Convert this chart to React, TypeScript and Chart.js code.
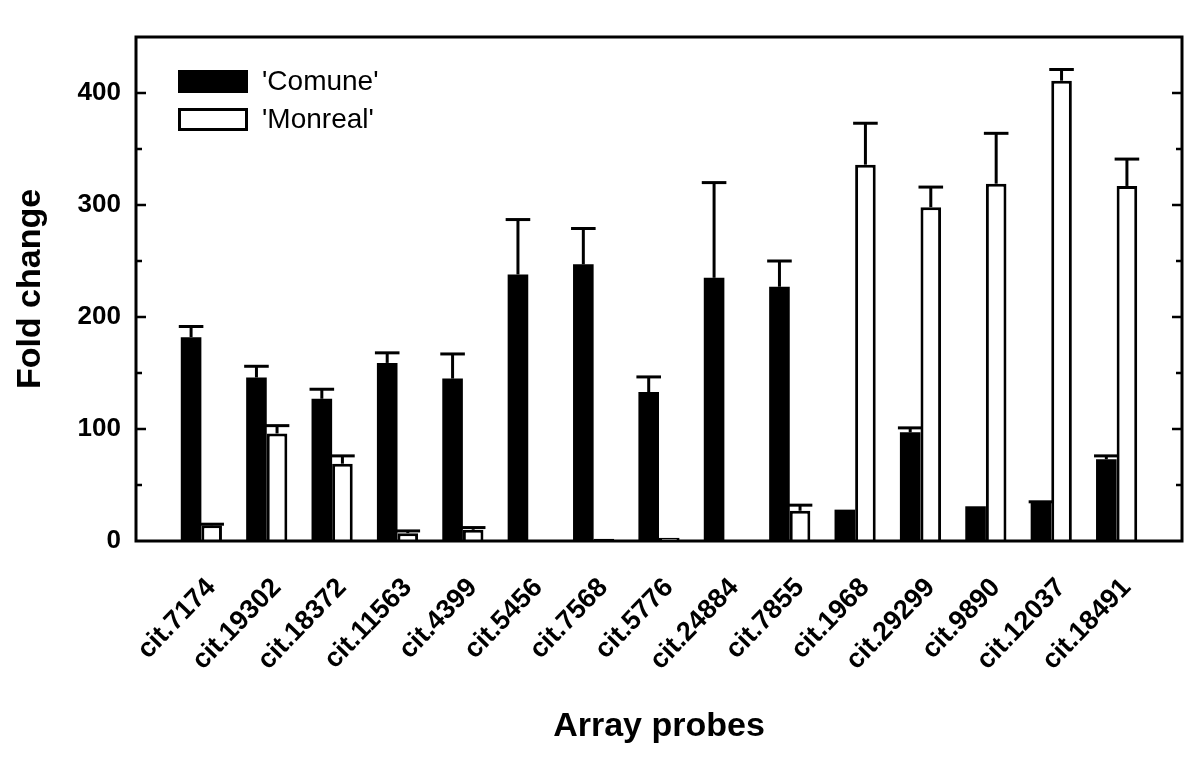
import React, { useEffect, useRef } from "react";
import { Chart, registerables } from "chart.js";

Chart.register(...registerables);

const categories = [
  "cit.7174", "cit.19302", "cit.18372", "cit.11563", "cit.4399",
  "cit.5456", "cit.7568", "cit.5776", "cit.24884", "cit.7855",
  "cit.1968", "cit.29299", "cit.9890", "cit.12037", "cit.18491",
];
const comune = [182, 146, 127, 159, 145, 238, 247, 133, 235, 227, 28, 97, 31, 34, 73];
const comuneErr = [9.5, 10, 8.5, 9, 22, 49, 32, 13.5, 85, 23, 0, 4, 0, 1, 3];
const monreal = [14, 96, 69, 7, 10, 0, 2, 3, 0, 27, 336, 298, 319, 411, 317];
const monrealErr = [1, 7, 7, 2, 2, 0, 0, 0, 0, 5, 37, 18, 45, 10, 24];
const yTickLabels = [0, 100, 200, 300, 400];
const seriesNames = ["'Comune'", "'Monreal'"];

const FONT = "'Liberation Sans', Arial, Helvetica, sans-serif";

export default function App() {
  const canvasRef = useRef<HTMLCanvasElement | null>(null);

  useEffect(() => {
    const canvas = canvasRef.current;
    if (!canvas) return;
    const errs = [comuneErr, monrealErr];

    const framePlugin = {
      id: "frameTicksErr",
      afterDatasetsDraw(chart: any) {
        const ctx = chart.ctx;
        const { left, right, top, bottom } = chart.chartArea;
        const yScale = chart.scales.y;
        // error bars
        chart.data.datasets.forEach((ds: any, di: number) => {
          const meta = chart.getDatasetMeta(di);
          meta.data.forEach((bar: any, j: number) => {
            const e = errs[di][j];
            const v = ds.data[j].y;
            if (!e || e <= 0 || v == null) return;
            const p = bar.getProps(["x", "y", "width"], true);
            const yTop = yScale.getPixelForValue(v + e);
            ctx.save();
            ctx.strokeStyle = "#000";
            ctx.lineWidth = 3;
            ctx.beginPath();
            ctx.moveTo(p.x, p.y);
            ctx.lineTo(p.x, yTop);
            ctx.stroke();
            const capW = p.width + 4;
            ctx.beginPath();
            ctx.moveTo(p.x - capW / 2, yTop);
            ctx.lineTo(p.x + capW / 2, yTop);
            ctx.stroke();
            ctx.restore();
          });
        });
        // frame
        ctx.save();
        ctx.strokeStyle = "#000";
        ctx.lineWidth = 3;
        ctx.strokeRect(left, top, right - left, bottom - top);
        // inward ticks
        ctx.lineWidth = 2.5;
        for (let v = 50; v < 450; v += 50) {
          const y = yScale.getPixelForValue(v);
          const len = v % 100 === 0 ? 10 : 6;
          ctx.beginPath();
          ctx.moveTo(left, y);
          ctx.lineTo(left + len, y);
          ctx.moveTo(right, y);
          ctx.lineTo(right - len, y);
          ctx.stroke();
        }
        ctx.restore();
      },
      afterDraw(chart: any) {
        const ctx = chart.ctx;
        ctx.save();
        const boxX = 178, boxW = 70, boxH = 23;
        const rows = [70, 108];
        chart.data.datasets.forEach((ds: any, i: number) => {
          const y = rows[i];
          if (i === 0) {
            ctx.fillStyle = "#000";
            ctx.fillRect(boxX, y, boxW, boxH);
          } else {
            ctx.fillStyle = "#fff";
            ctx.fillRect(boxX, y, boxW, boxH);
            ctx.strokeStyle = "#000";
            ctx.lineWidth = 3;
            ctx.strokeRect(boxX + 1.5, y + 1.5, boxW - 3, boxH - 3);
          }
          ctx.fillStyle = "#000";
          ctx.font = `28px ${FONT}`;
          ctx.textBaseline = "middle";
          ctx.textAlign = "left";
          ctx.fillText(ds.label, 262, y + boxH / 2 + 1);
        });
        ctx.restore();
      },
    };

    const chart = new Chart(canvas, {
      type: "bar",
      data: {
        datasets: [
          {
            label: seriesNames[0],
            data: comune.map((v, i) => ({ x: i + 1, y: v })),
            backgroundColor: "#000",
            borderColor: "#000",
            borderWidth: 0,
          },
          {
            label: seriesNames[1],
            data: monreal.map((v, i) => ({ x: i + 1, y: v })),
            backgroundColor: "#fff",
            borderColor: "#000",
            borderWidth: 3,
            borderSkipped: "start",
          },
        ],
      },
      options: {
        responsive: false,
        animation: false,
        categoryPercentage: 0.63,
        barPercentage: 1.0,
        layout: { padding: { left: 0, right: 18, top: 37, bottom: 0 } },
        plugins: {
          legend: { display: false },
          tooltip: { enabled: false },
        },
        scales: {
          x: {
            type: "linear",
            min: 0,
            max: 16,
            offset: false,
            grid: { display: false, drawTicks: false },
            border: { display: false },
            afterFit: (s: any) => {
              s.height = 219;
              s.paddingLeft = 0;
              s.paddingRight = 0;
            },
            afterBuildTicks: (s: any) => {
              s.ticks = [];
              for (let i = 0; i <= 16; i++) s.ticks.push({ value: i });
            },
            ticks: {
              autoSkip: false,
              minRotation: 46,
              maxRotation: 46,
              padding: 31,
              labelOffset: 10,
              color: "#000",
              font: { family: FONT, size: 27, weight: "bold" },
              callback: (v: any) => {
                const n = Number(v);
                return n >= 1 && n <= categories.length ? categories[n - 1] : "";
              },
            },
            title: {
              display: true,
              text: "Array probes",
              color: "#000",
              font: { family: FONT, size: 34, weight: "bold" },
              padding: { top: 0, bottom: 13 },
            },
          },
          y: {
            min: 0,
            max: 450,
            grid: { display: false, drawTicks: false },
            border: { display: false },
            afterFit: (s: any) => {
              s.width = 136;
              s.paddingTop = 0;
              s.paddingBottom = 0;
            },
            afterBuildTicks: (s: any) => {
              s.ticks = yTickLabels.map((v) => ({ value: v }));
            },
            ticks: {
              padding: 15,
              color: "#000",
              font: { family: FONT, size: 26, weight: "bold" },
            },
            title: {
              display: true,
              text: "Fold change",
              color: "#000",
              font: { family: FONT, size: 34, weight: "bold" },
              padding: { top: 10, bottom: 0 },
            },
          },
        },
      },
      plugins: [framePlugin],
    } as any);

    return () => chart.destroy();
  }, []);

  return (
    <div style={{ position: "absolute", left: 0, top: 0, width: 1200, height: 760, background: "#fff" }}>
      <canvas ref={canvasRef} width={1200} height={760} style={{ display: "block" }} />
    </div>
  );
}
